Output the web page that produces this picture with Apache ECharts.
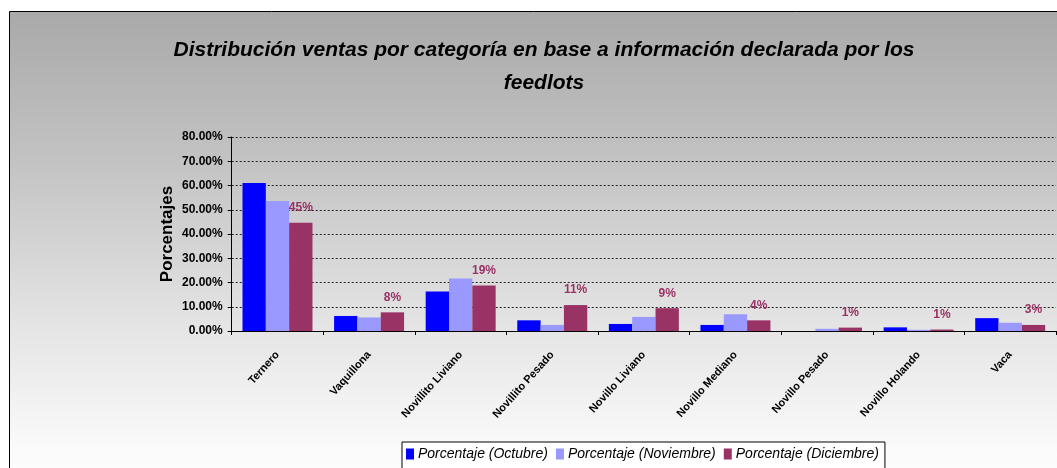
<!DOCTYPE html>
<html>
<head>
<meta charset="utf-8">
<script src="https://cdn.jsdelivr.net/npm/echarts@6/dist/echarts.min.js"></script>
<style>
html,body{margin:0;padding:0;background:#fff;}
#c{width:1057px;height:468px;}
</style>
</head>
<body>
<div id="c"></div>
<script>
var categories = ['Ternero','Vaquillona','Novillito Liviano','Novillito Pesado','Novillo Liviano','Novillo Mediano','Novillo Pesado','Novillo Holando','Vaca'];
var octubre   = [0.61, 0.062, 0.163, 0.044, 0.029, 0.025, 0.0,   0.015, 0.053];
var noviembre = [0.536, 0.056, 0.217, 0.025, 0.058, 0.069, 0.009, 0.005, 0.034];
var diciembre = [0.446, 0.077, 0.188, 0.107, 0.094, 0.044, 0.014, 0.006, 0.025];
var seriesNames = ['Porcentaje (Octubre)','Porcentaje (Noviembre)','Porcentaje (Diciembre)'];
var titleText = 'Distribución ventas por categoría en base a información declarada por los\nfeedlots';
var yAxisName = 'Porcentajes';

var FONT = '"Liberation Sans", Arial, sans-serif';
var chart = echarts.init(document.getElementById('c'));
chart.setOption({
  animation: false,
  textStyle: {fontFamily: FONT},
  graphic: [{
    type: 'rect', z: -100, silent: true,
    shape: {x: 9.5, y: 11.5, width: 1100, height: 520},
    style: {
      fill: new echarts.graphic.LinearGradient(0, 0, 0, 1, [
        {offset: 0, color: '#a9a9a9'},
        {offset: 0.3, color: '#c4c4c4'},
        {offset: 0.6, color: '#e4e4e4'},
        {offset: 0.85, color: '#fbfbfb'},
        {offset: 1, color: '#ffffff'}
      ]),
      stroke: '#000', lineWidth: 1
    }
  }],
  title: {
    text: titleText,
    left: 539, top: 29, textAlign: 'center',
    textStyle: {fontFamily: FONT, fontSize: 21, fontWeight: 'bold', fontStyle: 'italic', color: '#000', lineHeight: 33}
  },
  legend: {
    data: seriesNames,
    left: 402, top: 442,
    backgroundColor: '#fff', borderColor: '#000', borderWidth: 1,
    padding: [5, 6, 8, 4],
    icon: 'rect', itemWidth: 8, itemHeight: 11, itemGap: 8,
    textStyle: {fontFamily: FONT, fontSize: 14, fontStyle: 'italic', color: '#000', padding: [0,0,0,-1]}
  },
  grid: {left: 231.7, right: 1, top: 137, bottom: 137, containLabel: false},
  xAxis: {
    type: 'category', data: categories,
    axisLine: {lineStyle: {color: '#000', width: 1}},
    axisTick: {show: true, length: 4, lineStyle: {color: '#000'}},
    axisLabel: {interval: 0, rotate: 48, margin: 22, fontFamily: FONT, fontSize: 11, fontWeight: 'bold', color: '#000'}
  },
  yAxis: {
    type: 'value', min: 0, max: 0.8, interval: 0.1,
    name: yAxisName, nameLocation: 'middle', nameRotate: 90, nameGap: 56, nameMoveOverlap: false,
    nameTextStyle: {fontFamily: FONT, fontSize: 17, fontWeight: 'bold', color: '#000'},
    axisLine: {show: true, lineStyle: {color: '#000', width: 1}},
    axisTick: {show: true, length: 4, lineStyle: {color: '#000'}},
    axisLabel: {margin: 9, formatter: function(v){return (v*100).toFixed(2)+'%';}, fontFamily: FONT, fontSize: 12, fontWeight: 'bold', color: '#000'},
    splitLine: {show: true, lineStyle: {color: '#222', type: [2, 2], width: 1}}
  },
  series: [
    {name: seriesNames[0], type: 'bar', data: octubre, barGap: '0%', barCategoryGap: '23.6%', itemStyle: {color: '#0000ff'}},
    {name: seriesNames[1], type: 'bar', data: noviembre, barGap: '0%', barCategoryGap: '23.6%', itemStyle: {color: '#9999ff'}},
    {name: seriesNames[2], type: 'bar', data: diciembre, barGap: '0%', barCategoryGap: '23.6%', itemStyle: {color: '#993366'},
      label: {show: true, position: 'top', distance: 9, formatter: function(p){return Math.round(p.value*100)+'%';},
        fontFamily: FONT, fontSize: 12, fontWeight: 'bold', color: '#993366'}}
  ]
});
</script>
</body>
</html>
